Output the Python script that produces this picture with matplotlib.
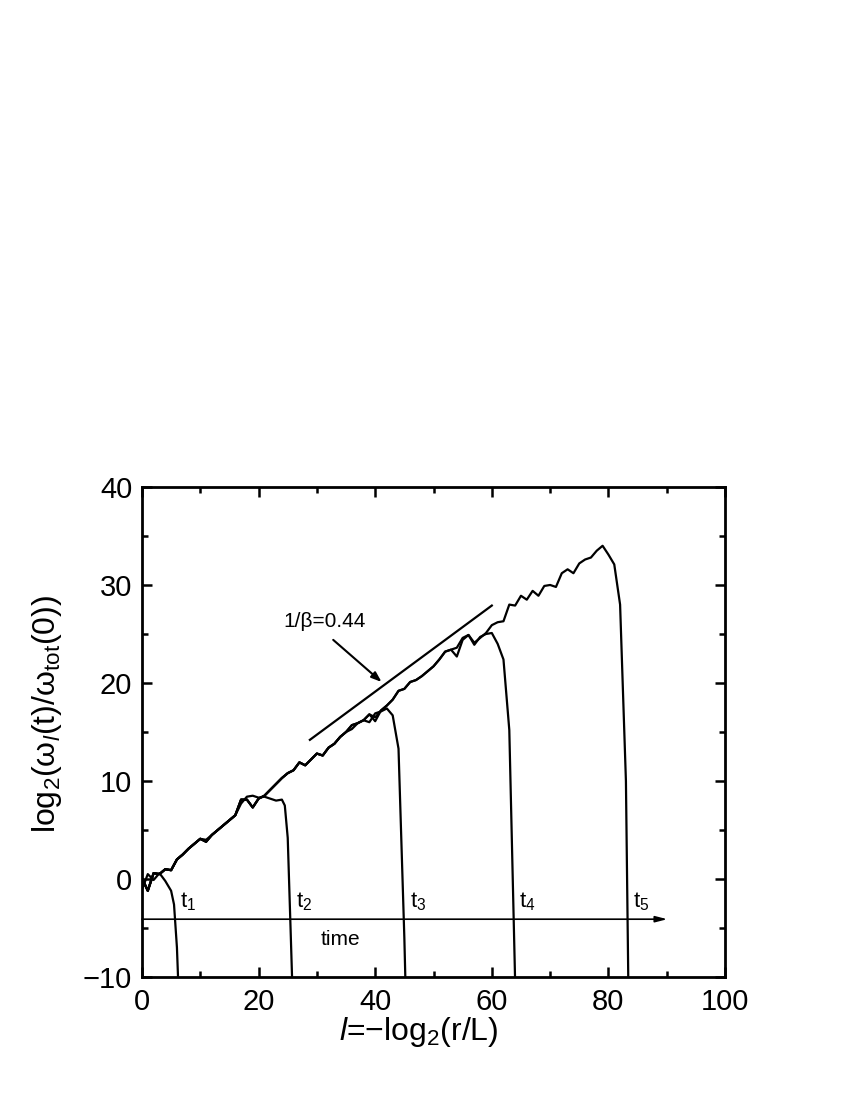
import matplotlib
matplotlib.use('Agg')
import matplotlib.pyplot as plt

plt.rcParams['font.family'] = ['Liberation Sans', 'DejaVu Sans']
plt.rcParams['mathtext.fontset'] = 'custom'
plt.rcParams['mathtext.rm'] = 'Liberation Sans'
plt.rcParams['mathtext.it'] = 'Liberation Sans:italic'
plt.rcParams['mathtext.default'] = 'regular'

# curve values, one list per time t1..t5
l5 = list(range(0, 85))
y5 = [0.1, -1.2, 0.6, 0.5, 1.0, 0.9, 2.0, 2.5, 3.1, 3.6,
      4.1, 3.8, 4.5, 5.0, 5.5, 6.0, 6.5, 8.1, 8.1, 7.3,
      8.2, 8.5, 9.1, 9.7, 10.3, 10.8, 11.1, 11.9, 11.6, 12.2,
      12.8, 12.6, 13.4, 13.8, 14.5, 15.0, 15.7, 15.9, 16.2, 16.8,
      16.5, 17.2, 17.7, 18.3, 19.2, 19.4, 20.1, 20.3, 20.7, 21.2,
      21.7, 22.4, 23.2, 23.4, 23.6, 24.6, 24.9, 24.1, 24.6, 25.1,
      25.9, 26.2, 26.3, 28.0, 27.9, 28.9, 28.5, 29.4, 28.9, 29.9,
      30.0, 29.8, 31.2, 31.6, 31.2, 32.2, 32.6, 32.8, 33.5, 34.0,
      33.1, 32.1, 28.0, 10.0, -40.0]

l4 = list(range(0, 65))
y4 = [0.1, -1.2, 0.6, 0.5, 1.0, 0.9, 2.0, 2.5, 3.1, 3.6,
      4.1, 3.8, 4.5, 5.0, 5.5, 6.0, 6.5, 8.1, 8.1, 7.3,
      8.2, 8.5, 9.1, 9.7, 10.3, 10.8, 11.1, 11.9, 11.6, 12.2,
      12.8, 12.6, 13.4, 13.8, 14.5, 15.0, 15.3, 15.9, 16.2, 16.8,
      16.1, 17.2, 17.7, 18.3, 19.2, 19.4, 20.1, 20.3, 20.7, 21.2,
      21.7, 22.4, 23.2, 23.4, 22.7, 24.4, 24.9, 23.9, 24.7, 25.0,
      25.1, 24.0, 22.4, 15.2, -10.5]

l3 = list(range(0, 47))
y3 = [0.1, -1.2, 0.6, 0.5, 1.0, 0.9, 2.0, 2.5, 3.1, 3.6,
      4.1, 3.8, 4.5, 5.0, 5.5, 6.0, 6.5, 8.1, 8.1, 7.3,
      8.2, 8.5, 9.1, 9.7, 10.3, 10.8, 11.1, 11.9, 11.6, 12.2,
      12.8, 12.6, 13.4, 13.8, 14.5, 15.0, 15.7, 15.9, 16.2, 16.0,
      16.9, 17.1, 17.4, 16.7, 13.3, -6.0, -30.0]

l2 = list(range(0, 25)) + [24.5, 25, 25.5, 26]
y2 = [0.1, -1.2, 0.6, 0.5, 1.0, 0.9, 2.0, 2.5, 3.1, 3.6,
      4.1, 4.0, 4.5, 5.0, 5.5, 6.0, 6.5, 7.7, 8.4, 8.5,
      8.3, 8.4, 8.2, 8.0, 8.1, 7.5, 4.2, -5.3, -15.0]

l1 = [0, 1, 2, 3, 4, 5, 5.5, 6, 6.5]
y1 = [-1.1, 0.5, -0.1, 0.6, -0.2, -1.2, -2.6, -7.0, -15.0]

# slope line 1/beta and its label arrow
fit_l = [28.8, 60.0]
fit_y = [14.2, 27.9]
arrow_from = (32.8, 24.4)
arrow_to = (41.1, 20.1)

# time axis and the crossings t1..t5
time_y = -4.1
time_end = 90.1
t_cross = [5.7, 25.5, 45.0, 63.8, 83.3]
t_names = ['$t_1$', '$t_2$', '$t_3$', '$t_4$', '$t_5$']

fig = plt.figure(figsize=(8.5, 11), dpi=100)
ax = fig.add_axes([0.167, 0.1118, 0.686, 0.4455])

for xs, ys in [(l1, y1), (l2, y2), (l3, y3), (l4, y4), (l5, y5)]:
    ax.plot(xs, ys, color='black', lw=1.6)

ax.plot(fit_l, fit_y, color='black', lw=1.6)
ax.text(31.4, 26.3, '1/β=0.44', fontsize=15, ha='center', va='center')
ax.annotate('', xy=arrow_to, xytext=arrow_from,
            arrowprops=dict(arrowstyle='-|>,head_length=0.6,head_width=0.22',
                            color='black', lw=1.5, shrinkA=0, shrinkB=0))

ax.annotate('', xy=(time_end, time_y), xytext=(0, time_y),
            arrowprops=dict(arrowstyle='-|>,head_length=0.7,head_width=0.18',
                            color='black', lw=1.2, shrinkA=0, shrinkB=0))
ax.text(34.1, -6.2, 'time', fontsize=15, ha='center', va='center')
for xc, name in zip(t_cross, t_names):
    ax.text(xc + 0.9, time_y + 0.6, name, fontsize=16, ha='left', va='bottom')

ax.set_xlim(0, 100)
ax.set_ylim(-10, 40)
ax.set_xticks([0, 20, 40, 60, 80, 100])
ax.set_xticks([10, 30, 50, 70, 90], minor=True)
ax.set_yticks([-10, 0, 10, 20, 30, 40])
ax.set_yticks([-5, 5, 15, 25, 35], minor=True)
ax.tick_params(which='both', direction='in', top=True, right=True, width=1.8)
ax.tick_params(which='major', length=7, labelsize=21)
ax.tick_params(which='minor', length=4)
ax.tick_params(axis='x', pad=8)
ax.tick_params(axis='y', pad=7)
for s in ax.spines.values():
    s.set_linewidth(2.0)

ax.set_xlabel('$\\mathit{l}$=\u2212log$_2$(r/L)', fontsize=23)
ax.set_ylabel('log$_2$($\\omega_{\\mathit{l}}$(t)/$\\omega_{tot}$(0))', fontsize=23)
ax.xaxis.set_label_coords(0.475, -0.078)
ax.yaxis.set_label_coords(-0.134, 0.537)

fig.savefig('out.png', dpi=100)
